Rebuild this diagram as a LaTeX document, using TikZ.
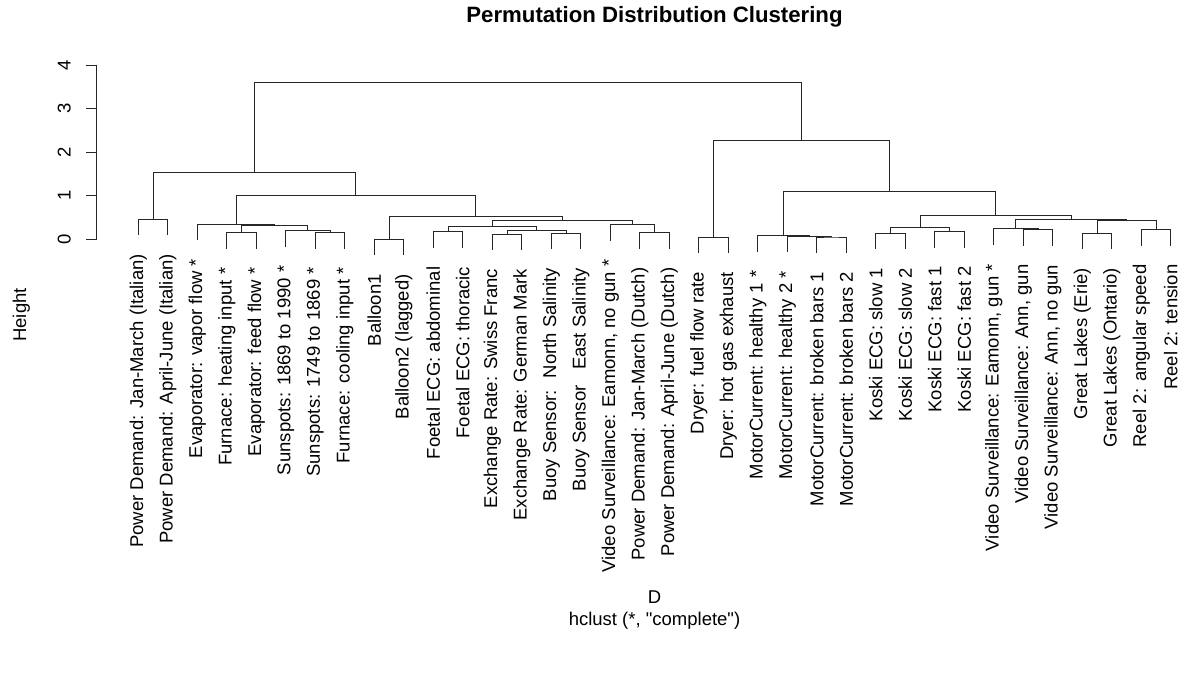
\documentclass[tikz,border=0pt]{standalone}
\usepackage{fontspec}
\setmainfont{Liberation Sans}[Ligatures=TeXOff]

\begin{document}
\begin{tikzpicture}[
  x=1pt, y=-1pt,
  branch/.style={line width=0.9pt, draw=black!85, line cap=rect},
  leaflabel/.style={rotate=90, anchor=east, inner sep=0pt, font=\fontsize{18.5}{22}\selectfont},
  ticklabel/.style={rotate=90, anchor=base, inner sep=0pt, font=\fontsize{18.5}{22}\selectfont},
  axistext/.style={anchor=base, inner sep=0pt, font=\fontsize{18.5}{22}\selectfont},
  maintitle/.style={anchor=base, inner sep=0pt, font=\bfseries\fontsize{22.2}{26}\selectfont}
]
\useasboundingbox (0,0) rectangle (1180,680);
\node[maintitle] (title) at (654.5,22.3) {Permutation Distribution Clustering};
\node[axistext, rotate=90] (ylab) at (26,315) {Height};
\node[axistext] (xlab) at (654.5,603) {D};
\node[axistext] (sublab) at (654.5,625) {hclust (*, "complete")};

\begin{scope}[shift={(0,239.3)}, y=43.58pt]
\draw[branch] (96.7,0) -- (96.7,4);
\foreach \t in {0,...,4} {
  \draw[branch] (96.7,\t) -- (86,\t);
  \node[ticklabel] (ytick\t) at (70.7,\t) {\t};
}

\foreach \i/\lx/\lh/\txt in {
  1/138.3/0.46/{Power Demand: Jan-March (Italian)},
  2/167.8/0.46/{Power Demand: April-June (Italian)},
  3/197.3/0.35/{Evaporator: vapor flow *},
  4/226.8/0.15/{Furnace: heating input *},
  5/256.3/0.15/{Evaporator: feed flow *},
  6/285.8/0.20/{Sunspots: 1869 to 1990 *},
  7/315.3/0.16/{Sunspots: 1749 to 1869 *},
  8/344.8/0.16/{Furnace: cooling input *},
  9/374.3/0/{Balloon1},
  10/403.8/0/{Balloon2 (lagged)},
  11/433.3/0.17/{Foetal ECG: abdominal},
  12/462.8/0.17/{Foetal ECG: thoracic},
  13/492.3/0.12/{Exchange Rate: Swiss Franc},
  14/521.8/0.12/{Exchange Rate: German Mark},
  15/551.3/0.14/{Buoy Sensor:~ North Salinity},
  16/580.8/0.14/{Buoy Sensor~~ East Salinity},
  17/610.3/0.34/{Video Surveillance: Eamonn, no gun *},
  18/639.8/0.15/{Power Demand: Jan-March (Dutch)},
  19/669.3/0.15/{Power Demand: April-June (Dutch)},
  20/698.8/0.05/{Dryer: fuel flow rate},
  21/728.3/0.05/{Dryer: hot gas exhaust},
  22/757.8/0.08/{MotorCurrent: healthy 1 *},
  23/787.3/0.07/{MotorCurrent: healthy 2 *},
  24/816.8/0.05/{MotorCurrent: broken bars 1},
  25/846.3/0.05/{MotorCurrent: broken bars 2},
  26/875.8/0.14/{Koski ECG: slow 1},
  27/905.3/0.14/{Koski ECG: slow 2},
  28/934.8/0.18/{Koski ECG: fast 1},
  29/964.3/0.18/{Koski ECG: fast 2},
  30/993.8/0.24/{Video Surveillance: Eamonn, gun *},
  31/1023.3/0.22/{Video Surveillance: Ann, gun},
  32/1052.8/0.22/{Video Surveillance: Ann, no gun},
  33/1082.3/0.14/{Great Lakes (Erie)},
  34/1111.8/0.14/{Great Lakes (Ontario)},
  35/1141.3/0.22/{Reel 2: angular speed},
  36/1170.8/0.22/{Reel 2: tension}} {
  \coordinate (l\i) at (\lx,\lh-0.361);
  \node[leaflabel] (t\i) at (\lx,\lh-0.797) {\txt};
}

\coordinate (m12) at (153.05,0.46);
\coordinate (m45) at (241.55,0.15);
\coordinate (m78) at (330.05,0.16);
\coordinate (m678) at (307.925,0.207);
\coordinate (m4to8) at (274.7375,0.312);
\coordinate (m3to8) at (236.019,0.35);
\coordinate (m910) at (389.05,0);
\coordinate (m1112) at (448.05,0.174);
\coordinate (m1314) at (507.05,0.122);
\coordinate (m1516) at (566.05,0.138);
\coordinate (m13to16) at (536.55,0.213);
\coordinate (m11to16) at (492.3,0.289);
\coordinate (m1819) at (654.55,0.151);
\coordinate (m17to19) at (632.425,0.344);
\coordinate (m11to19) at (562.3625,0.427);
\coordinate (m9to19) at (475.706,0.535);
\coordinate (m3to19) at (355.8625,1.01);
\coordinate (m1to19) at (254.456,1.528);
\coordinate (m2021) at (713.55,0.046);
\coordinate (m2425) at (831.55,0.053);
\coordinate (m23to25) at (809.425,0.07);
\coordinate (m22to25) at (783.6125,0.083);
\coordinate (m2627) at (890.55,0.138);
\coordinate (m2829) at (949.55,0.184);
\coordinate (m26to29) at (920.05,0.266);
\coordinate (m3132) at (1038.05,0.22);
\coordinate (m30to32) at (1015.925,0.243);
\coordinate (m3334) at (1097.05,0.138);
\coordinate (m3536) at (1156.05,0.22);
\coordinate (m33to36) at (1126.55,0.427);
\coordinate (m30to36) at (1071.2375,0.45);
\coordinate (m26to36) at (995.644,0.551);
\coordinate (m22to36) at (889.628,1.108);
\coordinate (m20to36) at (801.589,2.263);
\coordinate (root) at (528.02,3.609);

\draw[branch] (l1) |- (m12) -| (l2);
\draw[branch] (l4) |- (m45) -| (l5);
\draw[branch] (l7) |- (m78) -| (l8);
\draw[branch] (l6) |- (m678) -| (m78);
\draw[branch] (m45) |- (m4to8) -| (m678);
\draw[branch] (l3) |- (m3to8) -| (m4to8);
\draw[branch] (l9) |- (m910) -| (l10);
\draw[branch] (l11) |- (m1112) -| (l12);
\draw[branch] (l13) |- (m1314) -| (l14);
\draw[branch] (l15) |- (m1516) -| (l16);
\draw[branch] (m1314) |- (m13to16) -| (m1516);
\draw[branch] (m1112) |- (m11to16) -| (m13to16);
\draw[branch] (l18) |- (m1819) -| (l19);
\draw[branch] (l17) |- (m17to19) -| (m1819);
\draw[branch] (m11to16) |- (m11to19) -| (m17to19);
\draw[branch] (m910) |- (m9to19) -| (m11to19);
\draw[branch] (m3to8) |- (m3to19) -| (m9to19);
\draw[branch] (m12) |- (m1to19) -| (m3to19);
\draw[branch] (l20) |- (m2021) -| (l21);
\draw[branch] (l24) |- (m2425) -| (l25);
\draw[branch] (l23) |- (m23to25) -| (m2425);
\draw[branch] (l22) |- (m22to25) -| (m23to25);
\draw[branch] (l26) |- (m2627) -| (l27);
\draw[branch] (l28) |- (m2829) -| (l29);
\draw[branch] (m2627) |- (m26to29) -| (m2829);
\draw[branch] (l31) |- (m3132) -| (l32);
\draw[branch] (l30) |- (m30to32) -| (m3132);
\draw[branch] (l33) |- (m3334) -| (l34);
\draw[branch] (l35) |- (m3536) -| (l36);
\draw[branch] (m3334) |- (m33to36) -| (m3536);
\draw[branch] (m30to32) |- (m30to36) -| (m33to36);
\draw[branch] (m26to29) |- (m26to36) -| (m30to36);
\draw[branch] (m22to25) |- (m22to36) -| (m26to36);
\draw[branch] (m2021) |- (m20to36) -| (m22to36);
\draw[branch] (m1to19) |- (root) -| (m20to36);
\end{scope}
\end{tikzpicture}
\end{document}
